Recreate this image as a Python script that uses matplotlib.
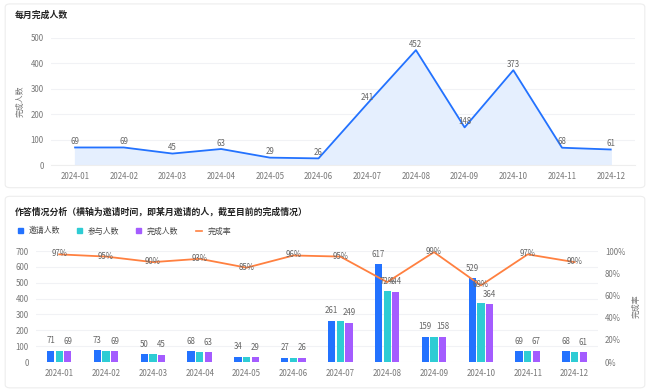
import matplotlib
matplotlib.use("Agg")
import matplotlib.pyplot as plt
from matplotlib.patches import FancyBboxPatch, Rectangle
from matplotlib.lines import Line2D
import numpy as np

plt.rcParams['font.family'] = ['Noto Sans CJK SC', 'DejaVu Sans']

months = ["2024-01", "2024-02", "2024-03", "2024-04", "2024-05", "2024-06",
          "2024-07", "2024-08", "2024-09", "2024-10", "2024-11", "2024-12"]
monthly_done = [69, 69, 45, 63, 29, 26, 241, 452, 148, 373, 68, 61]

invited = [71, 73, 50, 68, 34, 27, 261, 617, 159, 529, 69, 68]
joined = [70, 71, 49, 65, 31, 26, 258, 449, 159, 373, 69, 64]
completed = [69, 69, 45, 63, 29, 26, 249, 444, 158, 364, 67, 61]
rate = [97, 95, 90, 93, 85, 96, 95, 72, 99, 69, 97, 90]

series_names = ["邀请人数", "参与人数", "完成人数", "完成率"]

blue = "#2372FF"
cyan = "#2ECCD4"
purple = "#A45CFF"
orange = "#FF8040"
grid_c = "#F1F2F5"
tick_c = "#777777"
lab_c = "#666666"
fs = 5.7

W, H = 650, 391
fig = plt.figure(figsize=(6.5, 3.91), dpi=100)
fig.patch.set_facecolor("white")

# card frames
for (x0, y0, w, h) in [(0.008, 0.52, 0.984, 0.47), (0.008, 0.008, 0.984, 0.49)]:
    fig.patches.append(FancyBboxPatch((x0, y0), w, h, boxstyle="round,pad=0,rounding_size=0.008",
                                      transform=fig.transFigure, facecolor="white",
                                      edgecolor="#EDEDED", linewidth=0.8, zorder=-1))

x = np.arange(len(months))

# ---- top chart ----
ax1 = fig.add_axes([0.078, 0.578, 0.899, 0.325])
ax1.plot(x, monthly_done, color=blue, linewidth=1.3, zorder=3)
ax1.fill_between(x, monthly_done, 0, color="#E5EFFE", zorder=2)
for xi, v in zip(x, monthly_done):
    ax1.annotate(str(v), (xi, v), xytext=(0, 1), textcoords="offset points",
                 ha="center", va="bottom", fontsize=fs, color=lab_c, zorder=4)
ax1.set_xlim(-0.5, len(months) - 0.5)
ax1.set_ylim(0, 500)
ax1.set_yticks(range(0, 501, 100))
ax1.set_xticks(x)
ax1.set_xticklabels(months)
ax1.set_ylabel("完成人数", fontsize=fs, color=tick_c)
ax1.yaxis.set_label_coords(-0.045, 0.5)
ax1.grid(axis="y", color=grid_c, linewidth=0.8)
ax1.set_axisbelow(True)
for s in ax1.spines.values():
    s.set_visible(False)
ax1.spines["bottom"].set_visible(True)
ax1.spines["bottom"].set_color("#EEEEEE")
ax1.tick_params(length=0, labelsize=fs, labelcolor=tick_c, pad=5)

fig.text(15 / W, 1 - 15 / H, "每月完成人数", fontsize=6.4, fontweight="bold", color="#222222", va="center")

# ---- bottom chart ----
ax2 = fig.add_axes([0.055, 0.074, 0.865, 0.284])
bw = 0.156
gap = 0.185
ax2.bar(x - gap, invited, bw, color=blue, zorder=3)
ax2.bar(x, joined, bw, color=cyan, zorder=3)
ax2.bar(x + gap, completed, bw, color=purple, zorder=3)
for xi, a, c in zip(x, invited, completed):
    ax2.annotate(str(a), (xi - gap, a), xytext=(0, 4), textcoords="offset points",
                 ha="center", va="bottom", fontsize=fs, color=lab_c, zorder=5)
    ax2.annotate(str(c), (xi + gap, c), xytext=(0, 4), textcoords="offset points",
                 ha="center", va="bottom", fontsize=fs, color=lab_c, zorder=5)
ax2.set_xlim(-0.5, len(months) - 0.5)
ax2.set_ylim(0, 700)
ax2.set_yticks(range(0, 701, 100))
ax2.set_xticks(x)
ax2.set_xticklabels(months)
ax2.grid(axis="y", color=grid_c, linewidth=0.8)
ax2.set_axisbelow(True)
for s in ax2.spines.values():
    s.set_visible(False)
ax2.tick_params(length=0, labelsize=fs, labelcolor=tick_c, pad=5)

ax3 = ax2.twinx()
ax3.plot(x, [r / 100 for r in rate], color=orange, linewidth=1.3, zorder=4)
for xi, r in zip(x, rate):
    ax3.text(xi, r / 100 + 0.005, f"{r}%", ha="center", va="center", fontsize=fs, color=lab_c, zorder=5)
ax3.set_ylim(0, 1.0)
ax3.set_yticks(np.linspace(0, 1, 6))
ax3.set_yticklabels([f"{int(v)}%" for v in np.linspace(0, 100, 6)])
ax3.set_ylabel("完成率", fontsize=fs, color=tick_c)
ax3.yaxis.set_label_coords(1.06, 0.5)
for s in ax3.spines.values():
    s.set_visible(False)
ax3.tick_params(length=0, labelsize=fs, labelcolor=tick_c, pad=5)

fig.text(15 / W, 1 - 212 / H, "作答情况分析（横轴为邀请时间，即某月邀请的人，截至目前的完成情况）",
         fontsize=6.4, fontweight="bold", color="#222222", va="center")

# legend row
ly = 1 - 231 / H
legend_x = [18, 77, 136, 196]
colors = [blue, cyan, purple, orange]
for i, (lx, name, col) in enumerate(zip(legend_x, series_names, colors)):
    if i < 3:
        fig.patches.append(Rectangle((lx / W, ly - 2.5 / H), 5 / W, 5 / H,
                                     transform=fig.transFigure, color=col))
        tx = lx + 11
    else:
        fig.lines.append(Line2D([lx / W, (lx + 6) / W], [ly, ly],
                                transform=fig.transFigure, color=col, linewidth=1.2))
        tx = lx + 12
    fig.text(tx / W, ly, name, fontsize=fs, color="#444444", va="center")

fig.savefig("out.png", dpi=100)
